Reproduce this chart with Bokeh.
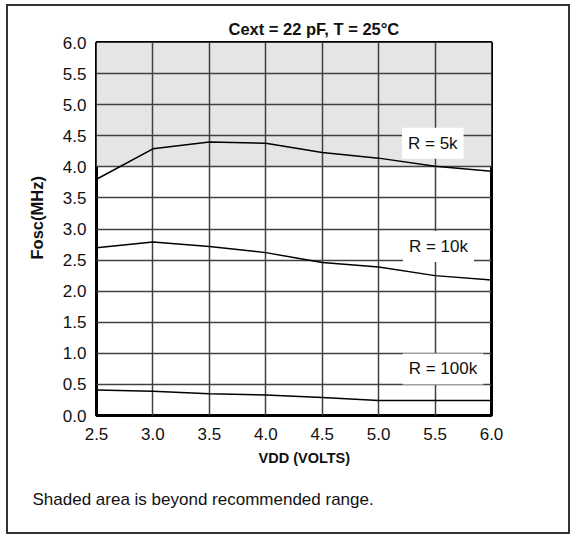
from bokeh.plotting import figure
from bokeh.models import Label, BoxAnnotation, FixedTicker, Title
from bokeh.embed import file_html
from bokeh.resources import INLINE

# ---------------- data ----------------
vdd = [2.5, 3.0, 3.5, 4.0, 4.5, 5.0, 5.5, 6.0]
fosc_5k = [3.80, 4.29, 4.40, 4.38, 4.23, 4.14, 4.01, 3.93]
fosc_10k = [2.70, 2.79, 2.72, 2.62, 2.46, 2.39, 2.25, 2.18]
fosc_100k = [0.41, 0.39, 0.35, 0.33, 0.29, 0.24, 0.24, 0.24]
series_names = ["R = 5k", "R = 10k", "R = 100k"]

x_ticks = [2.5, 3.0, 3.5, 4.0, 4.5, 5.0, 5.5, 6.0]
x_tick_labels = ["2.5", "3.0", "3.5", "4.0", "4.5", "5.0", "5.5", "6.0"]
y_ticks = [0.0, 0.5, 1.0, 1.5, 2.0, 2.5, 3.0, 3.5, 4.0, 4.5, 5.0, 5.5, 6.0]
y_tick_labels = ["0.0", "0.5", "1.0", "1.5", "2.0", "2.5", "3.0", "3.5",
                 "4.0", "4.5", "5.0", "5.5", "6.0"]
shaded_low, shaded_high = 4.0, 6.0

title_text = "Cext = 22 pF, T = 25\u00b0C"
x_label_text = "VDD (VOLTS)"
y_label_text = "Fosc(MHz)"
footnote_text = "Shaded area is beyond recommended range."

# label anchors (data coords) for the series names
label_pos = [(5.48, 4.38), (5.53, 2.72), (5.57, 0.75)]

FONT = "Liberation Sans"
INK = "#111111"

p = figure(frame_width=395, frame_height=373,
           min_border_left=88, min_border_right=77,
           min_border_top=36, min_border_bottom=117,
           x_range=(2.5, 6.0), y_range=(0.0, 6.0),
           output_backend="svg", toolbar_location=None, tools="")
p.styles = {"border": "2px solid #333333", "margin-left": "6px",
            "margin-top": "4px"}

p.background_fill_color = "white"
p.border_fill_color = "white"
p.outline_line_color = "black"
p.outline_line_width = 3

# shaded region (below the grid)
p.add_layout(BoxAnnotation(bottom=shaded_low, top=shaded_high,
                           fill_color="#e5e5e5", fill_alpha=1.0,
                           line_color=None, level="image"))

for ax, ticks, labels, so in ((p.xaxis[0], x_ticks, x_tick_labels, 12),
                              (p.yaxis[0], y_ticks, y_tick_labels, 10)):
    ax.ticker = FixedTicker(ticks=ticks)
    ax.major_label_overrides = {t: l for t, l in zip(ticks, labels)}
    ax.major_label_text_font = FONT
    ax.major_label_text_font_size = "17px"
    ax.major_label_text_color = INK
    ax.major_tick_out = 0
    ax.major_tick_in = 0
    ax.minor_tick_out = 0
    ax.minor_tick_in = 0
    ax.axis_line_color = None
    ax.major_label_standoff = so

p.xgrid.ticker = FixedTicker(ticks=x_ticks)
p.ygrid.ticker = FixedTicker(ticks=y_ticks)
p.grid.grid_line_color = "#404040"
p.grid.grid_line_width = 1.5
p.grid.grid_line_alpha = 1.0

for ys in (fosc_5k, fosc_10k, fosc_100k):
    p.line(vdd, ys, line_color="black", line_width=1.5)

for name, (lx, ly) in zip(series_names, label_pos):
    p.add_layout(Label(x=lx, y=ly, text=name, text_align="center",
                       text_baseline="middle", text_font=FONT,
                       text_font_size="17px", text_color=INK,
                       background_fill_color="white", background_fill_alpha=1.0,
                       padding=6))

# title (above)
p.title.text = title_text
p.title.align = "left"
p.title.offset = 132
p.title.standoff = 9
p.title.text_font = FONT
p.title.text_font_size = "16.5px"
p.title.text_font_style = "bold"
p.title.text_color = INK

# y axis label as a left title
p.add_layout(Title(text=y_label_text, align="left", offset=156, standoff=28,
                   text_font=FONT, text_font_size="16.5px",
                   text_font_style="bold", text_color=INK), "left")

# x axis label and footnote as below titles
p.add_layout(Title(text=x_label_text, align="left", offset=162, standoff=10,
                   text_font=FONT, text_font_size="14.5px",
                   text_font_style="bold", text_color=INK), "below")
p.add_layout(Title(text=footnote_text, align="left", offset=-64, standoff=35,
                   text_font=FONT, text_font_size="17px",
                   text_font_style="normal", text_color=INK), "below")

open("out.html", "w").write(file_html(p, INLINE))
